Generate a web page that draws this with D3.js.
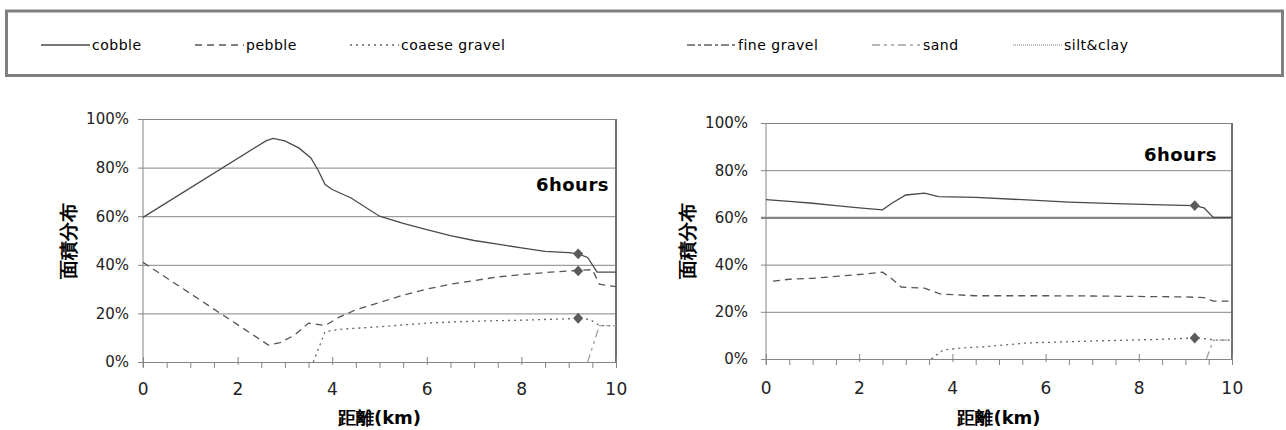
<!DOCTYPE html>
<html>
<head>
<meta charset="utf-8">
<script src="https://cdn.jsdelivr.net/npm/d3@7"></script>
<style>
body { margin: 0; background: #fff; }
text { font-family: "DejaVu Sans", sans-serif; }
</style>
</head>
<body>
<svg id="chart" width="1286" height="430"></svg>
<script>
// ---- data ----
var seriesNames = ["cobble", "pebble", "coaese gravel", "fine gravel", "sand", "silt&clay"];
var xTicks = [0, 2, 4, 6, 8, 10];
var yTicks = [0, 20, 40, 60, 80, 100];
var panelLabel = "6hours";
var yTitle = "面積分布";
var xTitle = "距離(km)";

// left panel  [km, %]
var leftCobble = [[0,59.5],[2.6,91],[2.75,92],[3.0,91],[3.3,88],[3.55,84],[3.7,79],[3.85,73],[4.0,71],[4.4,67.5],[5.0,60],[5.5,57],[6.0,54.5],[6.5,52],[7.0,50],[7.5,48.5],[8.0,47],[8.5,45.5],[9.0,45],[9.2,44.5],[9.4,43],[9.6,37],[10,37]];
var leftPebble = [[0,41],[2.65,7],[2.9,8],[3.2,11],[3.5,16],[3.85,15],[4.15,18.5],[4.5,21.5],[5.0,24.5],[5.5,27.5],[6.0,30],[6.5,32],[7.0,33.5],[7.5,35],[8.0,36],[8.5,36.8],[9.0,37.5],[9.5,38],[9.65,32],[10,31]];
var leftCoarse = [[3.6,0],[3.85,12.5],[4.2,13.5],[5.0,14.5],[6.0,16],[7.0,16.8],[8.0,17.2],[9.0,17.8],[9.2,18],[9.45,17.5],[9.65,15],[10,15]];
var leftSand = [[9.4,0],[9.65,15],[10,15]];
var leftMarkers = [[9.2,44.5],[9.2,37.5],[9.2,18]];

// right panel  [km, %]
var rightCobble = [[0,67.5],[0.5,66.8],[1,66],[1.5,65],[2,64],[2.5,63.2],[2.7,66],[3.0,69.5],[3.4,70.3],[3.7,68.8],[4.5,68.5],[5.5,67.5],[6.5,66.5],[7.5,65.8],[8.5,65.3],[9.2,65],[9.4,64],[9.6,60],[10,60]];
var rightPebble = [[0.15,33],[0.5,33.8],[1,34.2],[1.5,35],[2,35.8],[2.5,36.8],[2.7,34],[2.9,30.5],[3.4,30],[3.75,27.5],[4.5,26.8],[6,26.8],[7,26.7],[8,26.5],[9,26.3],[9.4,26],[9.6,24.5],[10,24.5]];
var rightCoarse = [[3.55,0],[3.8,3.8],[4.2,4.7],[4.7,5.2],[5.6,6.8],[7.0,7.6],[8.4,8.3],[9.2,8.9],[9.5,8.5],[9.6,8],[10,8]];
var rightSand = [[9.45,0],[9.6,8],[10,8]];
var rightMarkers = [[9.2,65],[9.2,8.9]];

// ---- styles ----
var lineStyle = {
  "cobble":        { dash: null,          color: "#4a4a4a" },
  "pebble":        { dash: "7,5",         color: "#555555" },
  "coaese gravel": { dash: "2,4",         color: "#666666" },
  "fine gravel":   { dash: "8,3,3,3",     color: "#606060" },
  "sand":          { dash: "8,4,3,4,3,4", color: "#a0a0a0" },
  "silt&clay":     { dash: "1,1",         color: "#a8a8a8" }
};

var svg = d3.select("#chart");

// legend box
svg.append("rect")
  .attr("x", 6.5).attr("y", 11)
  .attr("width", 1276).attr("height", 64.5)
  .attr("fill", "none").attr("stroke", "#808080").attr("stroke-width", 3);

var legendX = [41, 195, 350, 687, 872, 1013];
var legend = svg.selectAll("g.leg")
  .data(seriesNames)
  .enter().append("g")
  .attr("class", "leg")
  .attr("transform", function (d, i) { return "translate(" + legendX[i] + ",45)"; });

legend.append("line")
  .attr("x1", 0).attr("x2", 49).attr("y1", 0).attr("y2", 0)
  .attr("stroke", function (d) { return lineStyle[d].color; })
  .attr("stroke-width", 1.3)
  .attr("stroke-dasharray", function (d) { return lineStyle[d].dash; });

legend.append("text")
  .attr("x", 51).attr("y", 5)
  .attr("font-size", 14)
  .attr("letter-spacing", 0.5)
  .attr("fill", "#000")
  .text(function (d) { return d; });

function plotPanel(cfg) {
  var x = d3.scaleLinear().domain([0, 10]).range([cfg.left, cfg.right]);
  var y = d3.scaleLinear().domain([0, 100]).range([cfg.bottom, cfg.top]);
  var g = svg.append("g");

  // gridlines + y ticks
  g.append("g")
    .attr("transform", "translate(" + cfg.left + ",0)")
    .call(d3.axisLeft(y).tickValues(yTicks).tickFormat(""))
    .call(function (a) {
      a.select(".domain").remove();
      a.selectAll("line")
        .attr("x1", -5)
        .attr("x2", cfg.right - cfg.left)
        .attr("stroke", "#858585")
        .attr("stroke-width", function (d) { return d === cfg.thickGrid ? 2.2 : 1; });
    });

  // y labels
  g.append("g")
    .attr("transform", "translate(" + cfg.left + ",0)")
    .call(d3.axisLeft(y).tickValues(yTicks).tickSize(0).tickPadding(cfg.yPad)
      .tickFormat(function (d) { return d + "%"; }))
    .call(function (a) {
      a.select(".domain").remove();
      a.selectAll("text").attr("font-size", 15).attr("fill", "#222")
        .attr("font-family", "DejaVu Sans, sans-serif");
    });

  // y axis line and right border
  g.append("line")
    .attr("x1", cfg.left).attr("x2", cfg.left)
    .attr("y1", cfg.top).attr("y2", cfg.bottom + 5)
    .attr("stroke", "#858585");
  g.append("line")
    .attr("x1", cfg.right).attr("x2", cfg.right)
    .attr("y1", cfg.top).attr("y2", cfg.bottom)
    .attr("stroke", "#707070").attr("stroke-width", 2);

  // x minor ticks
  var minor = d3.range(0.5, 10, 0.5).filter(function (v) { return v % 2 !== 0; });
  g.append("g")
    .attr("transform", "translate(0," + cfg.bottom + ")")
    .call(d3.axisBottom(x).tickValues(minor).tickSize(6).tickFormat(""))
    .call(function (a) {
      a.select(".domain").attr("stroke", "#858585");
      a.selectAll("line").attr("stroke", "#858585");
    });

  // x major ticks (cross)
  g.append("g")
    .attr("transform", "translate(0," + cfg.bottom + ")")
    .call(d3.axisBottom(x).tickValues(xTicks).tickFormat(""))
    .call(function (a) {
      a.select(".domain").remove();
      a.selectAll("line").attr("y1", -5).attr("y2", 3).attr("stroke", "#858585");
    });

  // x labels
  g.append("g")
    .attr("transform", "translate(0," + cfg.bottom + ")")
    .call(d3.axisBottom(x).tickValues(xTicks).tickSize(0).tickPadding(cfg.xPad))
    .call(function (a) {
      a.select(".domain").remove();
      a.selectAll("text").attr("font-size", 17).attr("fill", "#222")
        .attr("font-family", "DejaVu Sans, sans-serif").attr("letter-spacing", 0.5);
    });

  // series
  var line = d3.line()
    .x(function (d) { return x(d[0]); })
    .y(function (d) { return y(d[1]); });

  g.selectAll("path.series")
    .data(cfg.series)
    .enter().append("path")
    .attr("class", "series")
    .attr("d", function (d) { return line(d.values); })
    .attr("fill", "none")
    .attr("stroke", function (d) { return lineStyle[d.name].color; })
    .attr("stroke-width", 1.3)
    .attr("stroke-dasharray", function (d) { return lineStyle[d.name].dash; });

  // markers
  g.selectAll("path.mk")
    .data(cfg.markers)
    .enter().append("path")
    .attr("class", "mk")
    .attr("d", d3.symbol(d3.symbolDiamond, 34))
    .attr("transform", function (d) {
      return "translate(" + x(d[0]) + "," + y(d[1]) + ") scale(1.6,1)";
    })
    .attr("fill", "#5a5a5a");

  // panel label
  g.append("text")
    .attr("x", cfg.right - cfg.labelDx)
    .attr("y", y(cfg.labelAt))
    .attr("text-anchor", "end")
    .attr("font-size", 18).attr("font-weight", "bold")
    .attr("letter-spacing", 0.5)
    .text(panelLabel);

  // axis titles
  g.append("text")
    .attr("transform", "translate(" + (cfg.left - cfg.yTitleDx) + "," + ((cfg.top + cfg.bottom) / 2) + ") rotate(-90)")
    .attr("text-anchor", "middle")
    .attr("font-family", "Noto Sans CJK SC, sans-serif")
    .attr("font-size", 19).attr("font-weight", "bold")
    .text(yTitle);

  g.append("text")
    .attr("x", (cfg.left + cfg.right) / 2)
    .attr("y", 424)
    .attr("text-anchor", "middle")
    .attr("font-family", "Noto Sans CJK SC, sans-serif")
    .attr("font-size", 18).attr("font-weight", "bold")
    .text(xTitle);
}

plotPanel({
  left: 143, right: 616, top: 119, bottom: 362,
  yPad: 14, xPad: 21, yTitleDx: 68, labelDx: 7, labelAt: 70.5,
  thickGrid: null,
  series: [
    { name: "cobble", values: leftCobble },
    { name: "pebble", values: leftPebble },
    { name: "coaese gravel", values: leftCoarse },
    { name: "sand", values: leftSand }
  ],
  markers: leftMarkers
});

plotPanel({
  left: 766, right: 1232, top: 123, bottom: 359,
  yPad: 18, xPad: 23, yTitleDx: 72, labelDx: 15, labelAt: 84,
  thickGrid: 60,
  series: [
    { name: "cobble", values: rightCobble },
    { name: "pebble", values: rightPebble },
    { name: "coaese gravel", values: rightCoarse },
    { name: "sand", values: rightSand }
  ],
  markers: rightMarkers
});
</script>
</body>
</html>
